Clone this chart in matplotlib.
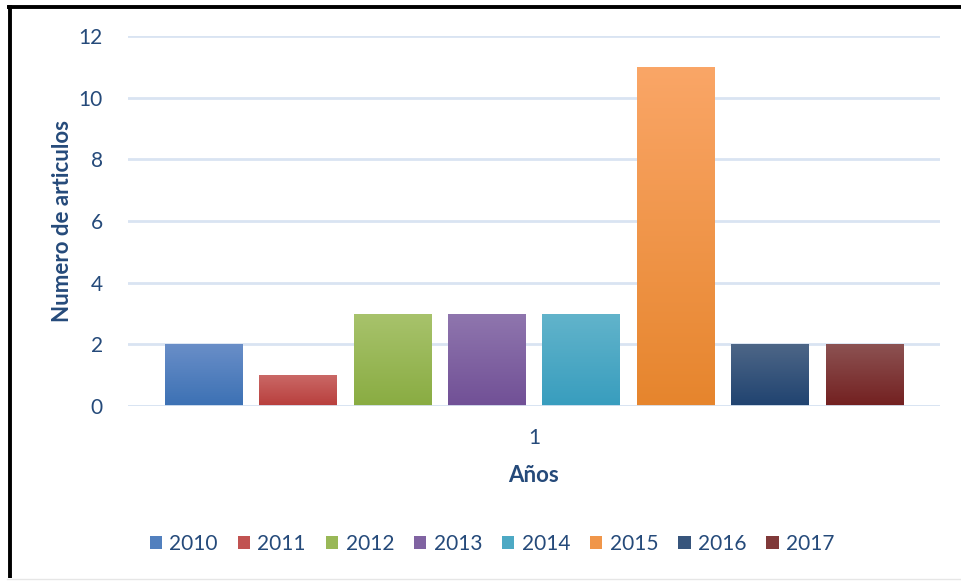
import matplotlib
matplotlib.use("Agg")
import matplotlib.pyplot as plt
import numpy as np
from matplotlib.colors import to_rgb
from matplotlib.lines import Line2D

# ---- data ----
categories = ["1"]
years = ["2010", "2011", "2012", "2013", "2014", "2015", "2016", "2017"]
values = [2, 1, 3, 3, 3, 11, 2, 2]
y_ticks = [0, 2, 4, 6, 8, 10, 12]
top_colors = ["#698EC8", "#CA6866", "#A8C36C", "#8F76AE", "#62B4CB", "#FAA667", "#4D6687", "#8C5252"]
bottom_colors = ["#3C71B4", "#B83E3C", "#89AC42", "#715096", "#389DBE", "#E6852D", "#204370", "#732020"]

text_color = "#254A7A"
grid_color = "#D9E4F2"
font = ["Lato", "DejaVu Sans"]
plt.rcParams["font.family"] = font

fig = plt.figure(figsize=(9.62, 5.81), dpi=100)
W, H = 962, 581
ax = fig.add_axes([128 / W, 1 - 406 / H, (940 - 128) / W, (406 - 36) / H])

pitch = 94.4 / 812
width = 77.5 / 812
n = len(years)
bars = []
for i, (yr, v) in enumerate(zip(years, values)):
    x = 0 + (i - (n - 1) / 2) * pitch
    c1 = np.array(to_rgb(top_colors[i]))
    c2 = np.array(to_rgb(bottom_colors[i]))
    mid = (c1 + c2) / 2
    b = ax.bar(x, v, width, color=mid, label=yr, zorder=3, linewidth=0)
    patch = b.patches[0]
    grad = np.linspace(0, 1, 100)[:, None]
    img = c1[None, None, :] * (1 - grad[:, :, None]) + c2[None, None, :] * grad[:, :, None]
    im = ax.imshow(img, extent=[x - width / 2, x + width / 2, 0, v], aspect="auto",
                   origin="upper", zorder=4, interpolation="bilinear")
    im.set_clip_path(patch)
    bars.append(b)

ax.set_xlim(-0.5, 0.5)
ax.set_ylim(0, 12)
ax.set_yticks(y_ticks)
ax.set_xticks([0])
ax.set_xticklabels(categories)
ax.yaxis.grid(True, color=grid_color, linewidth=2, zorder=0)
ax.set_axisbelow(True)
ax.axhline(0, color=grid_color, linewidth=2, zorder=5)
for s in ax.spines.values():
    s.set_visible(False)
ax.tick_params(axis="both", length=0, labelsize=15, labelcolor=text_color)
ax.tick_params(axis="y", pad=18)
ax.tick_params(axis="x", pad=16)
ax.set_ylabel("Numero de articulos", fontsize=16, fontweight="bold", color=text_color, labelpad=4)
ax.set_xlabel("Años", fontsize=16, fontweight="bold", color=text_color, labelpad=12)

handles = [b.patches[0] for b in bars]
leg = fig.legend(handles, years, loc="center", bbox_to_anchor=(492 / W, 1 - 544 / H), ncol=8,
                 frameon=False, fontsize=15, handlelength=0.6, handleheight=0.6,
                 handletextpad=0.35, columnspacing=0.95)
for t in leg.get_texts():
    t.set_color(text_color)

# border
fig.add_artist(Line2D([7 / W, 1], [1 - 6.5 / H, 1 - 6.5 / H], color="black", linewidth=2.8,
                      transform=fig.transFigure, solid_capstyle="butt"))
fig.add_artist(Line2D([9.5 / W, 9.5 / W], [1 - 5 / H, 1 - 578 / H], color="black", linewidth=2.8,
                      transform=fig.transFigure, solid_capstyle="butt"))
fig.add_artist(Line2D([7 / W, 1], [1 - 579 / H, 1 - 579 / H], color="#E6E6E6", linewidth=1,
                      transform=fig.transFigure))

fig.savefig("out.png", dpi=100)
